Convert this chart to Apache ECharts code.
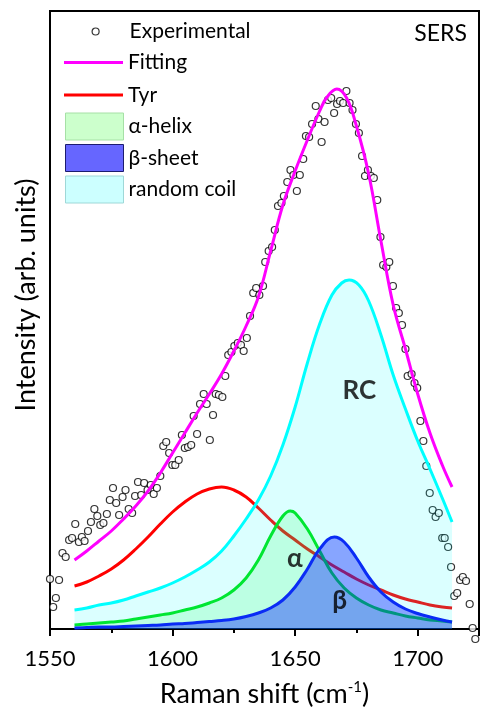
<!DOCTYPE html>
<html>
<head>
<meta charset="utf-8">
<script src="https://cdn.jsdelivr.net/npm/echarts@6/dist/echarts.min.js"></script>
<style>
html,body{margin:0;padding:0;background:#fff;}
#chart{width:482px;height:713px;}
</style>
</head>
<body>
<div id="chart"></div>
<script>
// ---- Data (intensity in arbitrary units) ----
const expX = [1550.0,1551.3,1552.4,1553.7,1555.1,1556.4,1557.8,1559.0,
  1560.3,1561.8,1563.0,1564.1,1565.5,1566.7,1568.1,1569.3,
  1570.5,1571.8,1573.2,1574.4,1575.7,1577.0,1578.2,1579.6,
  1580.8,1582.1,1583.5,1584.7,1585.9,1587.2,1588.4,1589.8,
  1591.1,1592.3,1593.6,1595.0,1596.2,1597.4,1598.6,1599.9,
  1601.1,1602.5,1603.8,1605.0,1606.3,1607.6,1608.6,
  1610.0,1611.2,1612.7,1613.9,1615.2,1616.5,1617.6,1618.9,
  1620.3,1621.5,1622.7,1624.0,1625.2,1626.6,1627.9,1629.0,
  1630.3,1631.6,1632.9,1634.1,1635.4,1636.9,1637.8,1639.2,
  1640.6,1641.7,1643.0,1644.4,1645.4,1646.8,1648.1,1649.3,
  1650.7,1651.9,1653.3,1654.4,1655.7,1656.9,1658.4,1659.5,
  1660.8,1662.0,1663.4,1664.7,1665.9,1667.1,1668.3,1669.6,
  1670.9,1672.2,1673.4,1674.8,1676.0,1677.3,1678.5,1679.7,
  1680.9,1682.1,1683.5,1684.8,1685.9,1687.2,1688.4,1689.9,
  1691.2,1692.3,1693.6,1695.0,1695.9,1697.5,1698.7,1699.8,
  1701.1,1702.3,1703.5,1704.9,1706.1,1707.3,1708.6,
  1710.0,1711.0,1712.4,1713.6,1714.9,1716.1,1717.3,1718.4,1719.7,
  1721.2,1722.4,1723.5];
const expY = [50,22,31,49,76,72,89,91,
  105,87,92,88,98,107,120,113,
  104,106,115,129,141,126,114,132,
  139,120,116,133,147,134,146,139,
  144,135,141,153,183,187,176,164,
  164,169,194,181,182,184,213,
  195,225,235,225,189,214,235,234,
  232,253,274,277,283,286,284,278,
  291,313,336,341,334,343,367,378,
  382,399,423,426,433,447,459,454,
  438,454,470,493,492,505,523,510,
  487,507,529,531,516,525,528,526,
  538,526,519,505,496,473,453,459,
  453,451,429,392,364,362,367,343,
  321,316,304,280,253,255,246,241,
  208,188,163,136,119,112,116,
  91,91,82,62,33,36,49,52,48,
  25,1,-10];

const fitX = [1560,1565,1570,1575,1580,1585,1590,1595,1600,1605,1610,1615,1620,1625,1630,1635,1640,1645,1650,1655,1660,1663,1667,1671,1675,1680,1685,1690,1695,1700,1705,1710,1714];
const fitY = [69,78,88,98,110,123,138,156,176,196,216,235,255,278,303,332,378,424,458,489,518,532,540,531,503,455,388,324,280,235,196,164,142];

const tyrX = [1560,1565,1570,1575,1580,1585,1590,1595,1600,1605,1610,1615,1620,1625,1630,1635,1640,1645,1650,1655,1660,1665,1670,1675,1680,1685,1690,1695,1700,1705,1710,1714];
const tyrY = [43,47,53,60,69,80,92,105,117,127,135,140,142,139,132,121,109,98,89,80,72,64,57,50,44,39,34,30,27,24,22,21];

const rcX = [1560,1565,1570,1575,1580,1585,1590,1595,1600,1605,1610,1615,1620,1625,1630,1635,1640,1645,1650,1655,1660,1665,1669,1672,1676,1680,1685,1690,1695,1700,1705,1710,1714];
const rcY = [19,21,24,26,29,33,37,41,46,52,59,67,78,93,110,129,153,184,222,266,305,334,346,349,344,328,294,254,220,188,160,131,107];

const helixX = [1560,1565,1570,1575,1580,1585,1590,1595,1600,1605,1610,1615,1620,1625,1630,1635,1640,1645,1648,1650,1655,1660,1665,1670,1675,1680,1685,1690,1695,1700,1705,1710,1714];
const helixY = [4,5,6,7,8,10,12,14,16,19,22,26,31,39,51,69,93,113,118,116,100,78,56,41,31,24,19,16,13,11,9,8,7];

const sheetX = [1560,1565,1570,1575,1580,1585,1590,1595,1600,1605,1610,1615,1620,1625,1630,1635,1640,1645,1650,1655,1660,1666,1670,1675,1680,1685,1690,1695,1700,1705,1710,1714];
const sheetY = [1,1.5,2,2,2.5,3,3.5,4,5,5.5,6.5,7.5,8.5,10,12.5,16,21,29,42,60,80,92,87,71,52,37,27,20,15.5,12,9,7];

const xTicks = [1550,1600,1650,1700];
const annText = ['RC','α','β'];
const annX = [1676.2,1649.9,1668.2];
const annY = [238,70,28];

// ---- helpers ----
const zip = (xs, ys) => xs.map((x, i) => [x, ys[i]]);
const FONT = 'Lato, "Noto Sans", "DejaVu Sans", sans-serif';
const LINE_ICON = 'path://M0,0H58V3H0Z';
const legendText = { fontFamily: FONT, fontSize: 21, color: '#000' };

const chart = echarts.init(document.getElementById('chart'), null, {renderer: 'canvas'});

const option = {
  animation: false,
  backgroundColor: '#fff',
  grid: {
    left: 50, top: 11, width: 436, height: 618,
    show: true, borderColor: '#000', borderWidth: 2, backgroundColor: 'transparent'
  },
  xAxis: {
    type: 'value',
    min: 1550, max: 1725, interval: 50,
    name: 'Raman shift (cm{sup|-1})',
    nameLocation: 'middle',
    nameGap: 51,
    nameTextStyle: {
      fontFamily: FONT, fontSize: 27, color: '#000',
      rich: { sup: { fontFamily: FONT, fontSize: 15, color: '#000', padding: [0, 0, 14, 0] } }
    },
    axisLine: { show: true, onZero: false, lineStyle: { color: '#000', width: 2 } },
    axisTick: { show: true, inside: false, length: 7, lineStyle: { color: '#000', width: 2 } },
    minorTick: { show: true, splitNumber: 2, length: 4, lineStyle: { color: '#000', width: 2 } },
    axisLabel: {
      margin: 19, fontFamily: FONT, fontSize: 22, color: '#000',
      formatter: v => (xTicks.indexOf(v) >= 0 ? String(v) : '')
    },
    splitLine: { show: false }
  },
  yAxis: {
    type: 'value',
    min: 0, max: 618,
    name: 'Intensity (arb. units)',
    nameLocation: 'middle',
    nameGap: 10,
    nameTextStyle: { fontFamily: FONT, fontSize: 27, color: '#000', padding: [0, 0, 0, 50] },
    axisLine: { show: true, lineStyle: { color: '#000', width: 2 } },
    axisTick: { show: false },
    axisLabel: { show: false },
    splitLine: { show: false }
  },
  legend: [
    {
      data: [{ name: 'Experimental', icon: 'circle',
        itemStyle: { color: '#fff', borderColor: '#000', borderWidth: 1.2 } }],
      orient: 'vertical', left: 91.5, top: 21, padding: 0,
      itemWidth: 58, itemHeight: 7, itemGap: 4,
      selectedMode: false, textStyle: legendText
    },
    {
      data: [
        { name: 'Fitting', icon: LINE_ICON, itemStyle: { color: '#ff00ff', borderWidth: 0 } },
        { name: 'Tyr', icon: LINE_ICON, itemStyle: { color: '#ff0000', borderWidth: 0 } }
      ],
      orient: 'vertical', left: 64, top: 52, padding: 0,
      itemWidth: 59, itemHeight: 27, itemGap: 11.5,
      selectedMode: false, textStyle: legendText
    },
    {
      data: [
        { name: 'α-helix', icon: 'rect', itemStyle: { color: 'rgba(0,255,0,0.2)', borderColor: '#a6e0a6', borderWidth: 1 } },
        { name: 'β-sheet', icon: 'rect', itemStyle: { color: 'rgba(0,0,255,0.6)', borderColor: '#1c1c70', borderWidth: 1 } },
        { name: 'random coil', icon: 'rect', itemStyle: { color: 'rgba(0,255,255,0.2)', borderColor: '#9fd8d8', borderWidth: 1 } }
      ],
      orient: 'vertical', left: 65, top: 112.5, padding: 0,
      itemWidth: 58, itemHeight: 27, itemGap: 3.5,
      selectedMode: false, textStyle: legendText
    }
  ],
  graphic: [
    { type: 'text', right: 15, top: 22, style: { text: 'SERS', fontFamily: FONT, fontSize: 23, fill: '#000' } }
  ],
  series: [
    {
      name: 'Experimental', type: 'scatter',
      data: zip(expX, expY),
      symbol: 'circle', symbolSize: 7, clip: false,
      itemStyle: { color: '#fff', borderColor: '#000', borderWidth: 1.2 },
      z: 2
    },
    {
      name: 'Tyr', type: 'line', data: zip(tyrX, tyrY),
      symbol: 'none', smooth: 0.4, color: '#ff0000',
      lineStyle: { color: '#ff0000', width: 3 }, z: 3
    },
    {
      name: 'random coil', type: 'line', data: zip(rcX, rcY),
      symbol: 'none', smooth: 0.4, color: '#00ffff',
      lineStyle: { color: '#00ffff', width: 3 },
      areaStyle: { color: 'rgba(0,255,255,0.2)', origin: 'start' }, z: 4
    },
    {
      name: 'α-helix', type: 'line', data: zip(helixX, helixY),
      symbol: 'none', smooth: 0.4, color: '#00e632',
      lineStyle: { color: '#00e632', width: 3 },
      areaStyle: { color: 'rgba(0,255,60,0.2)', origin: 'start' }, z: 5
    },
    {
      name: 'β-sheet', type: 'line', data: zip(sheetX, sheetY),
      symbol: 'none', smooth: 0.4, color: '#0a2cf5',
      lineStyle: { color: '#0a2cf5', width: 3 },
      areaStyle: { color: 'rgba(0,20,255,0.55)', origin: 'start' }, z: 6
    },
    {
      name: 'Fitting', type: 'line', data: zip(fitX, fitY),
      symbol: 'none', smooth: 0.4, color: '#ff00ff',
      lineStyle: { color: '#ff00ff', width: 3 }, z: 7
    },
    {
      name: 'labels', type: 'scatter',
      data: annX.map((x, i) => ({ value: [x, annY[i]], name: annText[i] })),
      symbolSize: 0, silent: true, z: 8,
      label: {
        show: true, position: 'inside', formatter: p => p.name,
        fontFamily: FONT, fontSize: 26, fontWeight: 'bold', color: '#000'
      }
    }
  ]
};
chart.setOption(option);
</script>
</body>
</html>
